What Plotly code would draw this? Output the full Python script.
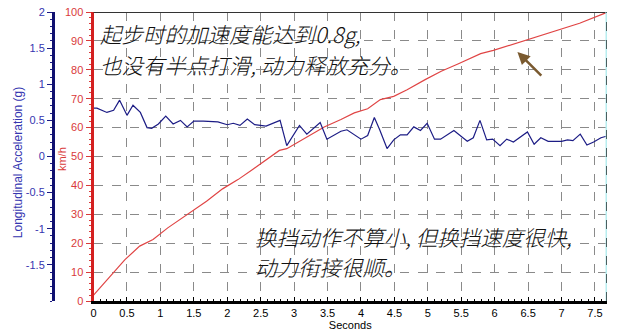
import plotly.graph_objects as go

# ---- data ----
t_acc = [0.00, 0.05, 0.20, 0.30, 0.39, 0.50, 0.59, 0.70, 0.80, 0.87, 0.97, 1.08, 1.19, 1.30,
         1.40, 1.50, 1.64, 1.86, 2.00, 2.09, 2.19, 2.30, 2.41, 2.58, 2.79, 2.89, 3.08, 3.19,
         3.39, 3.49, 3.70, 3.79, 4.00, 4.10, 4.20, 4.28, 4.39, 4.49, 4.59, 4.69, 4.79, 4.89,
         4.99, 5.10, 5.19, 5.39, 5.59, 5.68, 5.78, 5.88, 5.97, 6.08, 6.18, 6.28, 6.49, 6.59,
         6.69, 6.80, 7.00, 7.09, 7.17, 7.28, 7.38, 7.48, 7.59, 7.67]
acc_g = [0.67, 0.67, 0.61, 0.64, 0.78, 0.57, 0.71, 0.61, 0.40, 0.39, 0.45, 0.56, 0.45, 0.50,
         0.41, 0.49, 0.49, 0.48, 0.44, 0.46, 0.43, 0.52, 0.44, 0.42, 0.50, 0.15, 0.43, 0.31,
         0.47, 0.24, 0.35, 0.37, 0.24, 0.29, 0.54, 0.37, 0.11, 0.23, 0.30, 0.30, 0.41, 0.36,
         0.46, 0.24, 0.24, 0.36, 0.21, 0.26, 0.50, 0.23, 0.24, 0.15, 0.24, 0.20, 0.34, 0.17,
         0.26, 0.21, 0.21, 0.23, 0.22, 0.31, 0.16, 0.20, 0.26, 0.28]

t_speed = [0.00, 0.47, 0.69, 0.89, 1.11, 1.44, 1.69, 1.93, 2.16, 2.39, 2.78, 2.89, 3.15, 3.45,
           3.70, 3.90, 4.10, 4.29, 4.49, 4.69, 4.96, 5.20, 5.45, 5.79, 5.98, 6.33, 6.50, 6.78,
           6.97, 7.27, 7.67]
speed_kmh = [2.0, 14.3, 19.0, 21.3, 25.3, 30.5, 34.5, 38.8, 42.0, 45.7, 52.1, 52.7, 56.1, 60.2,
             62.8, 65.1, 66.5, 69.7, 70.8, 73.1, 76.6, 79.5, 82.0, 85.6, 86.7, 89.3, 90.6, 92.7,
             94.0, 96.1, 99.8]

x_ticks = [0, 0.5, 1, 1.5, 2, 2.5, 3, 3.5, 4, 4.5, 5, 5.5, 6, 6.5, 7, 7.5]
x_labels = ["0", "0.5", "1", "1.5", "2", "2.5", "3", "3.5", "4", "4.5", "5", "5.5", "6", "6.5", "7", "7.5"]
g_ticks = [2, 1.5, 1, 0.5, 0, -0.5, -1, -1.5]
g_labels = ["2", "1.5", "1", "0.5", "0", "-0.5", "-1", "-1.5"]
kmh_ticks = [0, 10, 20, 30, 40, 50, 60, 70, 80, 90, 100]

note_top = ["起步时的加速度能达到0.8g,", "也没有半点打滑, 动力释放充分。"]
note_bottom = ["换挡动作不算小, 但换挡速度很快,", "动力衔接很顺。"]
title_x = "Seconds"
title_speed = "km/h"
title_acc = "Longitudinal Acceleration (g)"

X_MAX = 7.68
W, H = 619, 335
ML, MR = 0, 12
PW = W - ML - MR

RED = "#d93a3a"
NAVY = "#1c1c85"
BLUE_TXT = "#3535b0"

fig = go.Figure()
fig.add_trace(go.Scatter(x=t_speed, y=speed_kmh, mode="lines", line=dict(color="#e04545", width=1.2),
                         yaxis="y", hoverinfo="skip"))
fig.add_trace(go.Scatter(x=t_acc, y=acc_g, mode="lines", line=dict(color=NAVY, width=1.2),
                         yaxis="y2", hoverinfo="skip"))

fig.update_layout(
    width=W, height=H,
    margin=dict(l=ML, r=MR, t=12, b=34),
    paper_bgcolor="white", plot_bgcolor="white",
    showlegend=False,
    font=dict(family="Liberation Sans, Arial, sans-serif", size=11),
    xaxis=dict(
        domain=[91 / PW, 1], range=[0, X_MAX],
        tickvals=x_ticks, ticktext=x_labels,
        showgrid=True, gridcolor="#8a8a8a", griddash="dash", gridwidth=1,
        showline=True, linecolor="black", linewidth=2.5,
        ticks="inside", ticklen=4, tickcolor="black",
        minor=dict(dtick=0.1, ticks="inside", ticklen=2, tickcolor="black", showgrid=False),
        tickfont=dict(color="black", size=11),
        title=dict(text=title_x, font=dict(size=11, color="black"), standoff=3),
        zeroline=False,
    ),
    yaxis=dict(
        range=[0, 100], tickvals=kmh_ticks,
        showgrid=True, gridcolor="#8a8a8a", griddash="dash", gridwidth=1,
        showline=True, linecolor="#d42020", linewidth=3,
        ticks="outside", ticklen=5, tickcolor=RED,
        minor=dict(dtick=2, ticks="outside", ticklen=2, tickcolor=RED, showgrid=False),
        tickfont=dict(color=RED, size=11),
        zeroline=False,
    ),
    yaxis2=dict(
        range=[-2, 2], tickvals=g_ticks, ticktext=g_labels,
        overlaying="y", side="left", anchor="free", position=50 / PW,
        showgrid=False, zeroline=False,
        showline=True, linecolor="#101070", linewidth=2.5,
        ticks="outside", ticklen=5, tickcolor=NAVY,
        minor=dict(dtick=0.1, ticks="outside", ticklen=2, tickcolor=NAVY, showgrid=False),
        tickfont=dict(color=BLUE_TXT, size=11),
    ),
)

# axis titles
fig.add_annotation(x=60 / PW, y=49, xref="paper", yref="y", text=title_speed, textangle=-90,
                   showarrow=False, xanchor="center", yanchor="middle",
                   font=dict(size=11, color=RED))
fig.add_annotation(x=15 / PW, y=48, xref="paper", yref="y", text=title_acc, textangle=-90,
                   showarrow=False, xanchor="center", yanchor="middle",
                   font=dict(size=12, color=BLUE_TXT))

# top border and right dashed end line
fig.add_shape(type="line", xref="paper", yref="y", x0=91 / PW, x1=1, y0=100, y1=100,
              line=dict(color="#333333", width=2))
fig.add_shape(type="line", xref="x", yref="y", x0=X_MAX, x1=X_MAX, y0=0, y1=100,
              line=dict(color="#b8eef0", width=3))
fig.add_shape(type="line", xref="x", yref="y", x0=X_MAX, x1=X_MAX, y0=0, y1=100,
              line=dict(color="black", width=1.2, dash="dash"))

cjk = dict(family="Noto Sans CJK SC", size=21.5, color="#111111", style="italic", weight=300)
for txt, yv in zip(note_top, [92.6, 81.9]):
    fig.add_annotation(x=0.08, y=yv, xref="x", yref="y", text=txt, showarrow=False,
                       xanchor="left", yanchor="middle", font=cjk, borderpad=0)
for txt, yv in zip(note_bottom, [22.3, 11.9]):
    fig.add_annotation(x=2.40, y=yv, xref="x", yref="y", text=txt, showarrow=False,
                       xanchor="left", yanchor="middle", font=cjk, borderpad=0)

# arrow
fig.add_annotation(x=6.34, y=86.2, ax=6.72, ay=77.5, xref="x", yref="y", axref="x", ayref="y",
                   text="", showarrow=True, arrowhead=2, arrowsize=1, arrowwidth=2.5,
                   arrowcolor="#7a5a30")

fig.write_html("out.html")
